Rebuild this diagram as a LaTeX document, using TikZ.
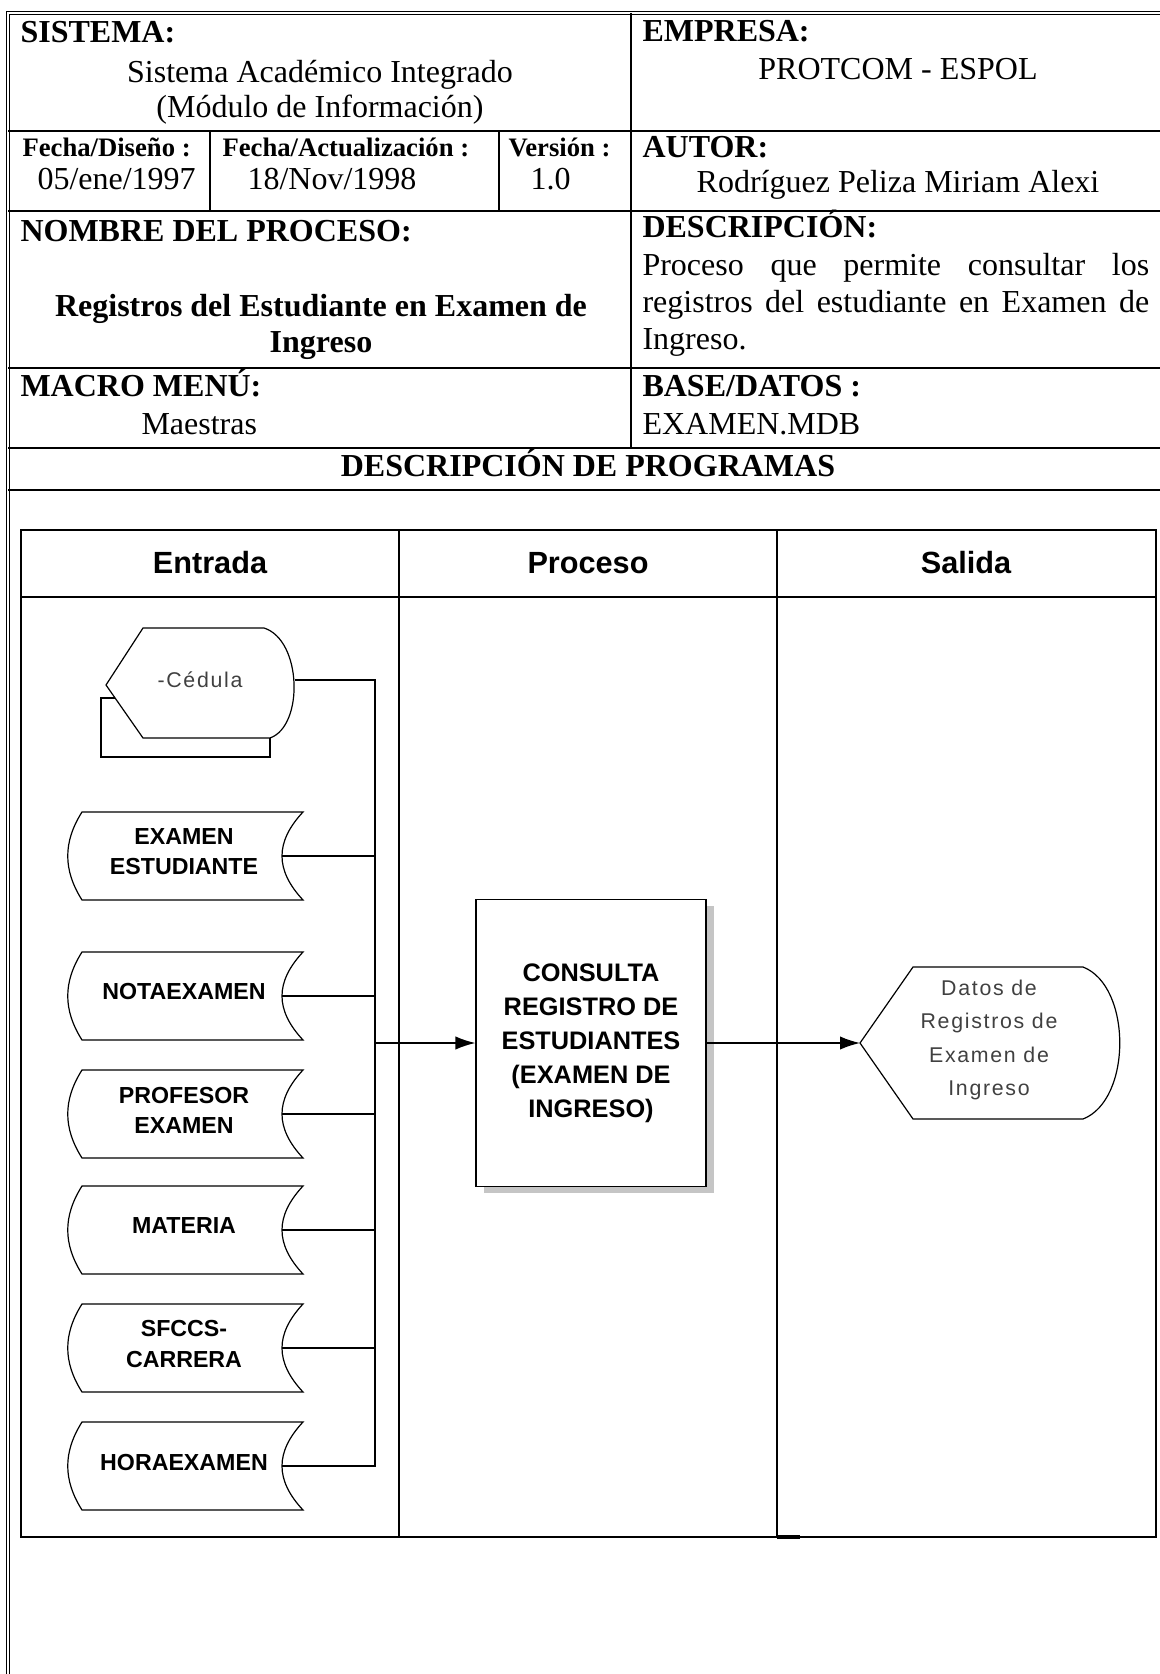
\documentclass[tikz,border=0pt]{standalone}
\usepackage{fontspec}
\setmainfont{Liberation Serif}
\newfontfamily\arialf{Liberation Sans}
\newfontfamily\arialsp[LetterSpace=8]{Liberation Sans}
\usetikzlibrary{arrows.meta,shadows}
\newcommand\ftwelve{\fontsize{12}{14}\selectfont}
\newcommand\ften{\fontsize{10}{12}\selectfont}

\begin{document}
\begin{tikzpicture}[x=0.375pt,y=-0.375pt,
    tabln/.style={line width=0.7pt},
    outerln/.style={line width=0.4pt,double,double distance=0.8pt},
    shp/.style={line width=0.45pt},
    link/.style={line width=0.5pt},
    arr/.style={link,-{Latex[length=7.5pt,width=5pt]}},
    lbl/.style={anchor=base west,inner sep=0pt,font=\ftwelve\bfseries},
    val/.style={anchor=base west,inner sep=0pt,font=\ftwelve},
    cval/.style={anchor=base,inner sep=0pt,font=\ftwelve},
    smallhd/.style={anchor=base west,inner sep=0pt,font=\ften\bfseries},
    colhd/.style={inner sep=0pt,font=\arialf\bfseries\fontsize{11.5}{14}\selectfont},
    dbtxt/.style={align=center,inner sep=0pt,font=\arialf\bfseries\fontsize{8.7}{11.25}\selectfont},
    outtxt/.style={align=center,inner sep=0pt,text=black!75,font=\arialsp\fontsize{8}{12.5}\selectfont},
    procbox/.style={draw,line width=0.45pt,fill=white,align=center,inner sep=0pt,
        minimum width=86.25pt,minimum height=107.6pt,
        font=\arialf\bfseries\fontsize{9.5}{12.75}\selectfont,
        drop shadow={shadow xshift=3pt,shadow yshift=-2.6pt,fill=black!45,draw=none}}
]
    \useasboundingbox (0,0) rectangle (1160,1674);

    % Outer frame and header grid
    \draw[outerln] (8,1674) -- (8,13) -- (1160,13);
    \foreach \yy in {131,211,368,448,490}
        \draw[tabln] (8,\yy) -- (1160,\yy);
    \draw[tabln] (631,13) -- (631,448);
    \draw[tabln] (210,131) -- (210,211);
    \draw[tabln] (499,131) -- (499,211);

    % Header texts, left column
    \node[lbl] (sis) at (20,43) {SISTEMA:};
    \node[cval] (sis1) at (320,83) {Sistema Académico Integrado};
    \node[cval] (sis2) at (320,118) {(Módulo de Información)};
    \node[smallhd] (fdis) at (22,157) {Fecha/Diseño :};
    \node[val] (fdisv) at (37,190) {05/ene/1997};
    \node[smallhd] (fact) at (222,157) {Fecha/Actualización :};
    \node[val] (factv) at (247,190) {18/Nov/1998};
    \node[smallhd] (ver) at (508,157) {Versión :};
    \node[val] (verv) at (530,190) {1.0};
    \node[lbl] (nom) at (20,242) {NOMBRE DEL PROCESO:};
    \node[cval,font=\ftwelve\bfseries] (nom1) at (321,317) {Registros del Estudiante en Examen de};
    \node[cval,font=\ftwelve\bfseries] (nom2) at (321,353) {Ingreso};
    \node[lbl] (mac) at (20,397) {MACRO MENÚ:};
    \node[val] (macv) at (141,435) {Maestras};

    % Header texts, right column
    \node[lbl] (emp) at (642,42) {EMPRESA:};
    \node[cval] (empv) at (898,80) {PROTCOM - ESPOL};
    \node[lbl] (aut) at (642,158) {AUTOR:};
    \node[cval] (autv) at (898,193) {Rodríguez Peliza Miriam Alexi};
    \node[lbl] (des) at (642,238) {DESCRIPCIÓN:};
    \node[val] (des1) at (642,276) {\makebox[190pt][s]{Proceso que permite consultar los}};
    \node[val] (des2) at (642,313) {\makebox[190pt][s]{registros del estudiante en Examen de}};
    \node[val] (des3) at (642,350) {Ingreso.};
    \node[lbl] (bas) at (642,397) {BASE/DATOS :};
    \node[val] (basv) at (642,435) {EXAMEN.MDB};
    \node[cval,font=\ftwelve\bfseries] (prog) at (588,477) {DESCRIPCIÓN DE PROGRAMAS};

    % Inner table
    \draw[tabln] (21,530) rectangle (1156,1537);
    \draw[tabln] (21,597) -- (1156,597);
    \draw[tabln] (399,530) -- (399,1537);
    \draw[tabln] (777,530) -- (777,1537);
    \draw[line width=1.3pt] (777,1537) -- (800,1537);
    \node[colhd] (hin) at (210,563) {Entrada};
    \node[colhd] (hproc) at (588,563) {Proceso};
    \node[colhd] (hout) at (966,563) {Salida};

    % Entrada: screen input with its back sheet
    \draw[shp] (115,698) -- (101,698) -- (101,757) -- (270,757) -- (270,738);
    \draw[shp] (106,685) -- (143,628) -- (264,628) .. controls (302,640) and (304,726) .. (270,738) -- (143,738) -- cycle;
    \node[outtxt] (ced) at (200,680) {-Cédula};
    \coordinate (cedR) at (295,680);
    \coordinate (busT) at (375,680);
    \coordinate (busB) at (375,1467);
    \draw[link] (cedR) -- (busT) -- (busB);

    % Entrada: tables
    \foreach \nm/\yy/\txt in {exest/812/{EXAMEN\\ESTUDIANTE},notex/952/NOTAEXAMEN,
            profex/1070/{PROFESOR\\EXAMEN},mater/1186/MATERIA,
            carr/1304/{SFCCS-\\CARRERA},horex/1422/HORAEXAMEN} {
        \draw[shp] (82,\yy) -- (303,\yy) .. controls (275,\yy+30) and (275,\yy+58) .. (303,\yy+88)
            -- (82,\yy+88) .. controls (63,\yy+58) and (63,\yy+30) .. cycle;
        \node[dbtxt] (\nm) at (184,\yy+40) {\txt};
        \coordinate (r\nm) at (282,\yy+44);
        \draw[link] (r\nm) -- (r\nm -| busT);
    }

    % Proceso
    \node[procbox] (proc) at (591,1043) {CONSULTA\\REGISTRO DE\\ESTUDIANTES\\(EXAMEN DE\\INGRESO)};
    \draw[arr] (proc.west -| busT) -- (proc.west);

    % Salida: screen output
    \draw[shp] (860,1043) -- (913,967) -- (1083,967) .. controls (1132,986) and (1132,1100) .. (1083,1119) -- (913,1119) -- cycle;
    \coordinate (salL) at (860,1043);
    \node[outtxt] (datos) at (989,1040) {Datos de\\Registros de\\Examen de\\Ingreso};
    \draw[arr] (proc.east) -- (salL);
\end{tikzpicture}
\end{document}
